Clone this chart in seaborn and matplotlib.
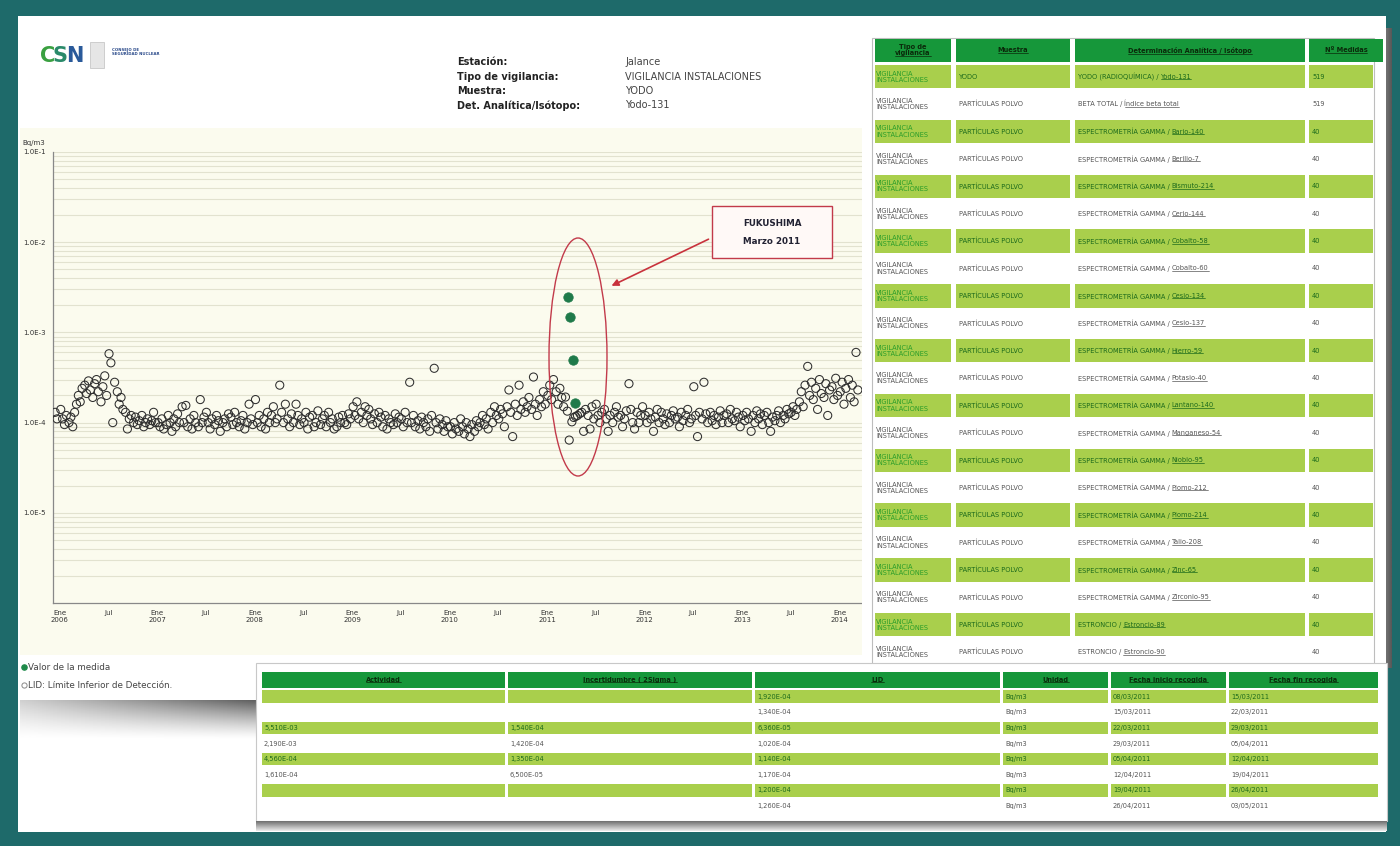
import matplotlib
matplotlib.use("Agg")
import matplotlib.pyplot as plt
from matplotlib.patches import Rectangle, Ellipse, FancyArrowPatch
import numpy as np
import pandas as pd
import seaborn as sns

W, H = 1400, 846

# LID (Limite Inferior de Deteccion) en 1E-4 Bq/m3, cuatro muestras por mes
lid_dic_2005 = [1.3, 1.1]
lid_2006 = [[1.4, 1.1, 0.95, 1.2], [1.0, 1.15, 0.9, 1.3], [1.6, 2.0, 1.7, 2.4], [2.6, 2.1, 2.9, 2.3],
            [1.9, 2.7, 3.0, 2.2], [1.7, 2.5, 3.3, 2.0], [5.8, 4.6, 1.0, 2.8], [2.2, 1.6, 1.9, 1.4],
            [1.3, 0.85, 1.1, 1.2], [1.0, 1.15, 0.95, 1.05], [1.2, 0.9, 1.0, 1.1], [0.95, 1.05, 1.3, 1.0]]
lid_2007 = [[1.0, 0.9, 1.1, 0.85], [0.95, 1.2, 1.0, 0.8], [1.1, 0.9, 1.25, 1.0], [1.5, 1.0, 1.55, 0.9],
            [1.1, 0.85, 1.2, 1.0], [0.9, 1.8, 1.0, 1.15], [1.3, 1.0, 0.85, 1.1], [0.95, 1.2, 1.05, 0.8],
            [1.0, 1.1, 0.9, 1.25], [1.15, 0.95, 1.3, 1.0], [0.9, 1.05, 1.2, 0.85], [1.0, 1.6, 1.1, 0.95]]
lid_2008 = [[1.8, 1.0, 1.2, 0.9], [1.1, 0.85, 1.3, 1.0], [1.2, 1.5, 1.0, 1.1], [2.6, 1.3, 1.0, 1.6],
            [1.1, 0.9, 1.25, 1.0], [1.6, 1.2, 0.95, 1.1], [1.0, 1.3, 0.85, 1.15], [1.2, 0.9, 1.0, 1.35],
            [0.95, 1.1, 1.2, 0.9], [1.3, 1.0, 1.1, 0.85], [0.9, 1.15, 1.0, 1.2], [1.0, 0.95, 1.25, 1.1]]
lid_2009 = [[1.5, 1.2, 1.7, 1.1], [1.3, 1.0, 1.5, 1.2], [1.4, 1.1, 0.95, 1.25], [1.0, 1.3, 1.15, 0.9],
            [1.2, 0.85, 1.1, 1.0], [0.95, 1.25, 1.0, 1.15], [1.1, 0.9, 1.3, 1.0], [2.8, 1.0, 1.2, 0.9],
            [1.05, 0.85, 1.15, 1.0], [0.9, 1.1, 0.8, 1.2], [4.0, 1.0, 0.85, 1.1], [0.95, 0.8, 1.05, 0.9]]
lid_2010 = [[0.9, 0.75, 1.0, 0.85], [0.8, 1.1, 0.9, 0.75], [1.0, 0.85, 0.7, 0.95], [0.8, 1.05, 0.9, 1.0],
            [1.2, 0.95, 1.1, 0.85], [1.3, 1.0, 1.5, 1.2], [1.1, 1.4, 1.25, 0.9], [1.5, 2.3, 1.3, 0.7],
            [1.6, 1.2, 2.6, 1.4], [1.7, 1.3, 1.5, 1.9], [1.4, 3.2, 1.6, 1.2], [1.8, 1.5, 2.2, 1.6]]
lid_2011 = [[2.0, 2.6, 1.8, 3.0], [2.2, 1.6, 2.4, 1.9], [1.5, 1.92, 1.34, 0.64], [1.02, 1.14, 1.17, 1.20],
            [1.26, 1.3, 0.8, 1.4], [1.2, 0.85, 1.5, 1.1], [1.6, 1.2, 1.0, 1.3], [1.4, 1.1, 0.8, 1.2],
            [1.0, 1.3, 1.5, 1.15], [1.2, 0.9, 1.1, 1.35], [2.7, 1.4, 1.0, 0.85], [1.3, 1.0, 1.2, 1.5]]
lid_2012 = [[1.2, 1.0, 1.3, 1.1], [0.8, 1.15, 1.4, 1.0], [1.3, 1.1, 0.95, 1.25], [1.0, 1.2, 1.35, 1.1],
            [1.15, 0.9, 1.3, 1.05], [1.2, 1.4, 1.0, 1.1], [2.5, 1.2, 0.7, 1.3], [1.1, 2.8, 1.25, 1.0],
            [1.3, 1.05, 1.2, 0.95], [1.15, 1.35, 1.0, 1.2], [1.25, 1.0, 1.4, 1.1], [1.05, 1.3, 1.15, 0.9]]
lid_2013 = [[1.2, 1.05, 1.3, 1.1], [0.8, 1.2, 1.0, 1.35], [1.1, 1.25, 0.95, 1.2], [1.3, 1.0, 0.8, 1.15],
            [1.05, 1.2, 1.35, 1.0], [1.2, 1.1, 1.4, 1.25], [1.3, 1.5, 1.2, 1.4], [1.7, 2.2, 1.5, 2.6],
            [4.2, 2.0, 2.8, 1.8], [2.4, 1.4, 3.0, 2.1], [1.9, 2.7, 1.2, 2.3], [2.5, 1.8, 3.1, 2.0]]
lid_2014 = [[2.2, 2.8, 1.6, 2.4], [3.0, 1.9, 2.6, 1.7], [6.0, 2.3]]
lid_by_year = {2006: lid_2006, 2007: lid_2007, 2008: lid_2008, 2009: lid_2009, 2010: lid_2010,
               2011: lid_2011, 2012: lid_2012, 2013: lid_2013, 2014: lid_2014}

# valores medidos (Fukushima)
medida_fechas = ["2011-03-22", "2011-03-29", "2011-04-08", "2011-04-15"]
medida_valores = [2.45e-3, 1.5e-3, 4.9e-4, 1.65e-4]

tick_fechas = ["2006-01-01", "2006-07-01", "2007-01-01", "2007-07-01", "2008-01-01", "2008-07-01",
               "2009-01-01", "2009-07-01", "2010-01-01", "2010-07-01", "2011-01-01", "2011-07-01",
               "2012-01-01", "2012-07-01", "2013-01-01", "2013-07-01", "2014-01-01"]
tick_textos = ["Ene\n2006", "Jul", "Ene\n2007", "Jul", "Ene\n2008", "Jul", "Ene\n2009", "Jul",
               "Ene\n2010", "Jul", "Ene\n2011", "Jul", "Ene\n2012", "Jul", "Ene\n2013", "Jul", "Ene\n2014"]
y_ticks = [1e-5, 1e-4, 1e-3, 1e-2, 1e-1]
y_textos = ["1.0E-5", "1.0E-4", "1.0E-3", "1.0E-2", "1.0E-1"]

# tabla derecha
cab_derecha = ["Tipo de\nvigilancia", "Muestra", "Determinación Analítica / Isótopo", "Nº Medidas"]
muestras = ["YODO"] + ["PARTÍCULAS POLVO"] * 21
tecnicas = ["YODO (RADIOQUÍMICA)", "BETA TOTAL"] + ["ESPECTROMETRÍA GAMMA"] * 18 + ["ESTRONCIO"] * 2
isotopos = ["Yodo-131", "Índice beta total", "Bario-140", "Berilio-7", "Bismuto-214", "Cerio-144",
            "Cobalto-58", "Cobalto-60", "Cesio-134", "Cesio-137", "Hierro-59", "Potasio-40",
            "Lantano-140", "Manganeso-54", "Niobio-95", "Plomo-212", "Plomo-214", "Talio-208",
            "Zinc-65", "Zirconio-95", "Estroncio-89", "Estroncio-90"]
n_medidas = ["519", "519"] + ["40"] * 20

# tabla inferior
cab_inferior = ["Actividad", "Incertidumbre ( 2Sigma )", "LID", "Unidad", "Fecha inicio recogida",
                "Fecha fin recogida"]
actividad = ["", "", "5,510E-03", "2,190E-03", "4,560E-04", "1,610E-04", "", ""]
incertidumbre = ["", "", "1,540E-04", "1,420E-04", "1,350E-04", "6,500E-05", "", ""]
lid_tabla = ["1,920E-04", "1,340E-04", "6,360E-05", "1,020E-04", "1,140E-04", "1,170E-04",
             "1,200E-04", "1,260E-04"]
unidad = ["Bq/m3"] * 8
fecha_inicio = ["08/03/2011", "15/03/2011", "22/03/2011", "29/03/2011", "05/04/2011",
                "12/04/2011", "19/04/2011", "26/04/2011"]
fecha_fin = ["15/03/2011", "22/03/2011", "29/03/2011", "05/04/2011", "12/04/2011",
             "19/04/2011", "26/04/2011", "03/05/2011"]

TEAL = "#1e6a6a"
CREAM = "#fbfbee"
GRID = "#e2e2cf"
HDR = "#16973a"
ROW = "#a9cf4c"
TXT_G = "#1c6a1c"
TXT_W = "#555555"


def px_box(x0, y0, x1, y1):
    return [x0 / W, 1 - y1 / H, (x1 - x0) / W, (y1 - y0) / H]


def build_lid():
    fechas = [pd.Timestamp(2005, 12, 14), pd.Timestamp(2005, 12, 21)]
    valores = list(lid_dic_2005)
    for year, months in lid_by_year.items():
        for m, vals in enumerate(months, start=1):
            for k, v in enumerate(vals):
                fechas.append(pd.Timestamp(year, m, 4 + 7 * k))
                valores.append(v)
    return pd.DataFrame({"fecha": fechas, "valor": np.array(valores) * 1e-4})


def full_axes(fig, z):
    a = fig.add_axes([0, 0, 1, 1], zorder=z)
    a.set_xlim(0, W)
    a.set_ylim(H, 0)
    a.axis("off")
    a.patch.set_alpha(0)
    return a


def gradient(a, x0, y0, x1, y1, arr, cmap="gray"):
    a.imshow(arr, extent=(x0, x1, y1, y0), cmap=cmap, vmin=0, vmax=1, aspect="auto",
             interpolation="bilinear", zorder=1)


def draw_right_table(a):
    # panel
    a.add_patch(Rectangle((862, 28), 524, 640, fc="white", ec="none", zorder=2))
    sh = np.tile(np.linspace(0.55, 0.35, 12), (40, 1))
    gradient(a, 1380, 28, 1392, 668, sh)
    a.add_patch(Rectangle((872, 38), 502, 626, fc="none", ec="#bdbdbd", lw=0.8, zorder=3))
    cols = [(875, 951), (956, 1070), (1075, 1305), (1309, 1383)]
    top, hh, rh = 39, 23, 27.4
    for (x0, x1), txt in zip(cols, cab_derecha):
        a.add_patch(Rectangle((x0, top), x1 - x0, hh, fc=HDR, ec="none", zorder=3))
        t = a.text((x0 + x1) / 2, top + hh / 2, txt, ha="center", va="center", fontsize=4.8,
                   fontweight="bold", color="#0a2a0a", zorder=4, linespacing=1.0)
        links.append(t)
    for i in range(len(muestras)):
        y0 = top + hh + 2 + i * rh
        verde = i % 2 == 0
        if verde:
            for x0, x1 in cols:
                a.add_patch(Rectangle((x0, y0 + 1), min(x1, 1373) - x0, rh - 4, fc=ROW, ec="none", zorder=3))
        c1 = "#2a9d2a" if verde else TXT_W
        c = TXT_G if verde else TXT_W
        yc = y0 + rh / 2 - 1
        a.text(cols[0][0] + 1, yc, "VIGILANCIA\nINSTALACIONES", ha="left", va="center", fontsize=4.8,
               color=c1, zorder=4, linespacing=1.05)
        a.text(cols[1][0] + 3, yc, muestras[i], ha="left", va="center", fontsize=4.8, color=c, zorder=4)
        t1 = a.text(cols[2][0] + 3, yc, tecnicas[i] + " / ", ha="left", va="center", fontsize=4.8,
                    color=c, zorder=4)
        pend.append((t1, isotopos[i], c, yc))
        a.text(cols[3][0] + 3, yc, n_medidas[i], ha="left", va="center", fontsize=4.8, color=c, zorder=4)


def draw_bottom_table(a):
    a.add_patch(Rectangle((256, 663), 1131, 158, fc="white", ec="#c8c8c8", lw=0.8, zorder=5))
    sh = np.tile(np.linspace(0.45, 0.9, 10)[:, None], (1, 40))
    gradient(a, 256, 821, 1387, 831, sh)
    a.images[-1].set_zorder(5)
    cols = [(262, 505), (508, 752), (755, 1000), (1003, 1108), (1111, 1226), (1229, 1378)]
    top, hh, rh = 672, 16, 15.6
    for (x0, x1), txt in zip(cols, cab_inferior):
        a.add_patch(Rectangle((x0, top), x1 - x0, hh, fc=HDR, ec="none", zorder=6))
        t = a.text((x0 + x1) / 2, top + hh / 2, txt, ha="center", va="center", fontsize=4.8,
                   fontweight="bold", color="#0a2a0a", zorder=7)
        links.append(t)
    datos = [actividad, incertidumbre, lid_tabla, unidad, fecha_inicio, fecha_fin]
    for i in range(len(lid_tabla)):
        y0 = top + hh + 1 + i * rh
        verde = i % 2 == 0
        if verde:
            for x0, x1 in cols:
                a.add_patch(Rectangle((x0, y0 + 1.5), x1 - x0, rh - 3, fc=ROW, ec="none", zorder=6))
        c = TXT_G if verde else TXT_W
        for (x0, x1), col in zip(cols, datos):
            a.text(x0 + 2, y0 + rh / 2, col[i], ha="left", va="center", fontsize=4.8, color=c, zorder=7)


sns.set_style("white")
plt.rcParams["font.family"] = ["DejaVu Sans"]

fig = plt.figure(figsize=(W / 100, H / 100), dpi=100)
fig.patch.set_facecolor(TEAL)

bg = full_axes(fig, 0)
bg.add_patch(Rectangle((18, 16), 1368, 816, fc="white", ec="none", zorder=0))
bg.add_patch(Rectangle((20, 128), 842, 527, fc=CREAM, ec="none", zorder=0))
ty = np.linspace(0, 1, 40)[:, None]
tx = np.linspace(0, 1, 60)[None, :]
sh = 1 - 0.62 * (1 - ty) ** 1.3 * (0.3 + 0.7 * tx)
gradient(bg, 20, 700, 256, 740, sh)

# logo y cabecera
bg.text(40, 56, "C", fontsize=15, fontweight="bold", color="#3aa040", va="center")
bg.text(53, 56, "S", fontsize=15, fontweight="bold", color="#2a8a6a", va="center")
bg.text(66, 56, "N", fontsize=15, fontweight="bold", color="#2a5a9a", va="center")
bg.add_patch(Rectangle((90, 42), 14, 26, fc="#e6e6e6", ec="#c8c8c8", lw=0.6))
bg.text(112, 52, "CONSEJO DE\nSEGURIDAD NUCLEAR", fontsize=2.8, color="#2a4a8a", va="center",
        fontweight="bold", linespacing=1.0)
etiquetas = ["Estación:", "Tipo de vigilancia:", "Muestra:", "Det. Analítica/Isótopo:"]
valores = ["Jalance", "VIGILANCIA INSTALACIONES", "YODO", "Yodo-131"]
for k, (e, v) in enumerate(zip(etiquetas, valores)):
    bg.text(457, 62 + 14.5 * k, e, fontsize=7, fontweight="bold", color="#222222", va="center")
    bg.text(625, 62 + 14.5 * k, v, fontsize=7, color="#444444", va="center")
bg.text(22, 143, "Bq/m3", fontsize=5, color="#333333", va="center")

# leyenda
bg.scatter([24], [667], s=14, color="#1f8a4a", zorder=3)
bg.text(28, 667, "Valor de la medida", fontsize=6.3, color="#444444", va="center")
bg.scatter([24], [685], s=14, facecolor="white", edgecolor="#888888", linewidth=0.7, zorder=3)
bg.text(28, 685, "LID: Límite Inferior de Detección.", fontsize=6.3, color="#444444", va="center")

# grafico principal
lid = build_lid()
med = pd.DataFrame({"fecha": pd.to_datetime(medida_fechas), "valor": medida_valores})

ax = fig.add_axes(px_box(53, 152, 876, 603), zorder=1)
ax.set_facecolor(CREAM)
sns.scatterplot(data=lid, x="fecha", y="valor", ax=ax, marker="o", s=34, facecolors="none",
                edgecolor="#2e2e2e", linewidth=0.75, legend=False, zorder=3)
sns.scatterplot(data=med, x="fecha", y="valor", ax=ax, marker="o", s=46, color="#1f7a4a",
                edgecolor="#1f7a4a", legend=False, zorder=4)
ax.set_yscale("log")
ax.set_ylim(1e-6, 1e-1)
ax.set_xlim(pd.Timestamp("2005-12-06"), pd.Timestamp("2014-05-18"))
ax.set_yticks(y_ticks)
ax.set_yticklabels(y_textos)
ax.yaxis.set_minor_locator(matplotlib.ticker.LogLocator(base=10, subs=np.arange(2, 10)))
ax.yaxis.set_minor_formatter(matplotlib.ticker.NullFormatter())
ax.set_xticks(pd.to_datetime(tick_fechas))
ax.set_xticklabels(tick_textos)
ax.grid(True, axis="y", which="both", color=GRID, lw=0.8)
ax.set_axisbelow(True)
ax.set_xlabel("")
ax.set_ylabel("")
for s in ["top", "right"]:
    ax.spines[s].set_visible(False)
for s in ["left", "bottom"]:
    ax.spines[s].set_color("#888888")
    ax.spines[s].set_linewidth(0.9)
ax.tick_params(axis="both", which="major", labelsize=5, colors="#333333", length=3, width=0.7, pad=2)
ax.tick_params(axis="y", which="minor", length=2, width=0.6, color="#777777")

# anotacion Fukushima y tablas
ov = full_axes(fig, 2)
links = []
pend = []
ov.add_patch(Ellipse((578, 357), 58, 238, fc="none", ec="#c23a4a", lw=1.0, zorder=2))
ov.add_patch(Rectangle((712, 206), 120, 52, fc="#fff9f7", ec="#c23a4a", lw=1.0, zorder=2))
ov.text(772, 223, "FUKUSHIMA", fontsize=6.3, fontweight="bold", color="#222233", ha="center",
        va="center", zorder=3)
ov.text(772, 241, "Marzo 2011", fontsize=6.3, fontweight="bold", color="#222233", ha="center",
        va="center", zorder=3)
ov.add_patch(FancyArrowPatch((711, 238), (609, 287), arrowstyle="-|>", mutation_scale=10,
                             color="#c8323c", lw=1.2, zorder=2))

draw_right_table(ov)
draw_bottom_table(ov)

# isotopos subrayados a continuacion del texto
fig.canvas.draw()
inv = ov.transData.inverted()
for t1, iso, c, yc in pend:
    bb = t1.get_window_extent()
    x_end = inv.transform((bb.x1, bb.y0))[0]
    t2 = ov.text(x_end, yc, iso, ha="left", va="center", fontsize=4.8, color=c, zorder=4)
    links.append(t2)
fig.canvas.draw()
for t in links:
    bb = t.get_window_extent()
    (xa, ya), (xb, yb) = inv.transform((bb.x0, bb.y0)), inv.transform((bb.x1, bb.y0))
    ov.plot([xa, min(xb, 1373)], [ya - 0.5, ya - 0.5], color=t.get_color(), lw=0.5,
            zorder=t.get_zorder())

fig.savefig("out.png", dpi=100, facecolor=TEAL)
